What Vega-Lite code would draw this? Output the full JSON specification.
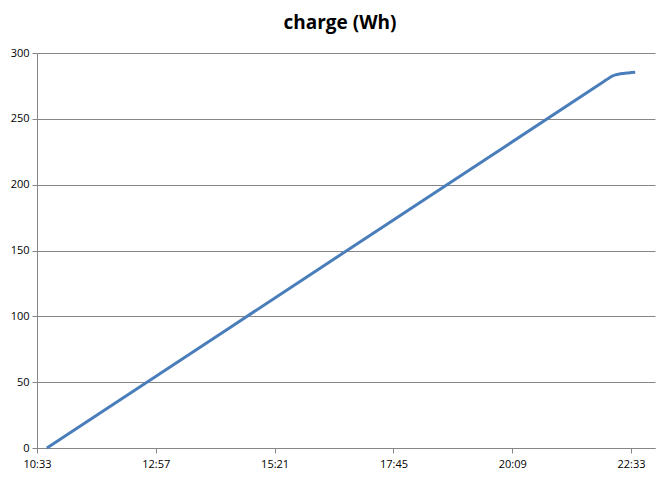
{
  "$schema": "https://vega.github.io/schema/vega-lite/v6.json",
  "width": 618,
  "height": 395,
  "autosize": {"type": "none"},
  "padding": {"left": 37, "top": 53, "right": 9, "bottom": 30},
  "background": "white",
  "title": {
    "text": "charge (Wh)",
    "font": "Open Sans",
    "fontSize": 19,
    "fontWeight": "bold",
    "color": "#000000",
    "anchor": "middle",
    "dx": -6,
    "offset": 14
  },
  "config": {"view": {"stroke": null}},
  "data": {
    "values": [
      {"time": "2020-01-01T10:45:00", "charge": 0},
      {"time": "2020-01-01T13:00:00", "charge": 55.7},
      {"time": "2020-01-01T16:00:00", "charge": 129.9},
      {"time": "2020-01-01T19:00:00", "charge": 204.2},
      {"time": "2020-01-01T22:00:00", "charge": 278.4},
      {"time": "2020-01-01T22:06:00", "charge": 280.9},
      {"time": "2020-01-01T22:10:00", "charge": 282.4},
      {"time": "2020-01-01T22:14:00", "charge": 283.4},
      {"time": "2020-01-01T22:20:00", "charge": 284.2},
      {"time": "2020-01-01T22:30:00", "charge": 284.9},
      {"time": "2020-01-01T22:38:00", "charge": 285.3}
    ]
  },
  "mark": {"type": "line", "color": "#4A7EBB", "strokeWidth": 3, "interpolate": "monotone"},
  "encoding": {
    "x": {
      "field": "time",
      "type": "temporal",
      "scale": {
        "domain": [
          {"year": 2020, "month": 1, "date": 1, "hours": 10, "minutes": 33},
          {"year": 2020, "month": 1, "date": 1, "hours": 23, "minutes": 2}
        ]
      },
      "axis": {
        "title": null,
        "grid": false,
        "format": "%H:%M",
        "values": [
          {"year": 2020, "month": 1, "date": 1, "hours": 10, "minutes": 33},
          {"year": 2020, "month": 1, "date": 1, "hours": 12, "minutes": 57},
          {"year": 2020, "month": 1, "date": 1, "hours": 15, "minutes": 21},
          {"year": 2020, "month": 1, "date": 1, "hours": 17, "minutes": 45},
          {"year": 2020, "month": 1, "date": 1, "hours": 20, "minutes": 9},
          {"year": 2020, "month": 1, "date": 1, "hours": 22, "minutes": 33}
        ],
        "domainColor": "#868686",
        "tickColor": "#868686",
        "tickSize": 5,
        "labelFont": "Open Sans",
        "labelFontSize": 11,
        "labelColor": "#000000",
        "labelPadding": 5,
        "labelFlush": false
      }
    },
    "y": {
      "field": "charge",
      "type": "quantitative",
      "scale": {"domain": [0, 300], "nice": false, "zero": true},
      "axis": {
        "title": null,
        "values": [0, 50, 100, 150, 200, 250, 300],
        "grid": true,
        "gridColor": "#868686",
        "gridOpacity": 1,
        "domainColor": "#868686",
        "tickColor": "#868686",
        "tickSize": 5,
        "labelFont": "Open Sans",
        "labelFontSize": 11,
        "labelColor": "#000000",
        "labelPadding": 3
      }
    }
  }
}
